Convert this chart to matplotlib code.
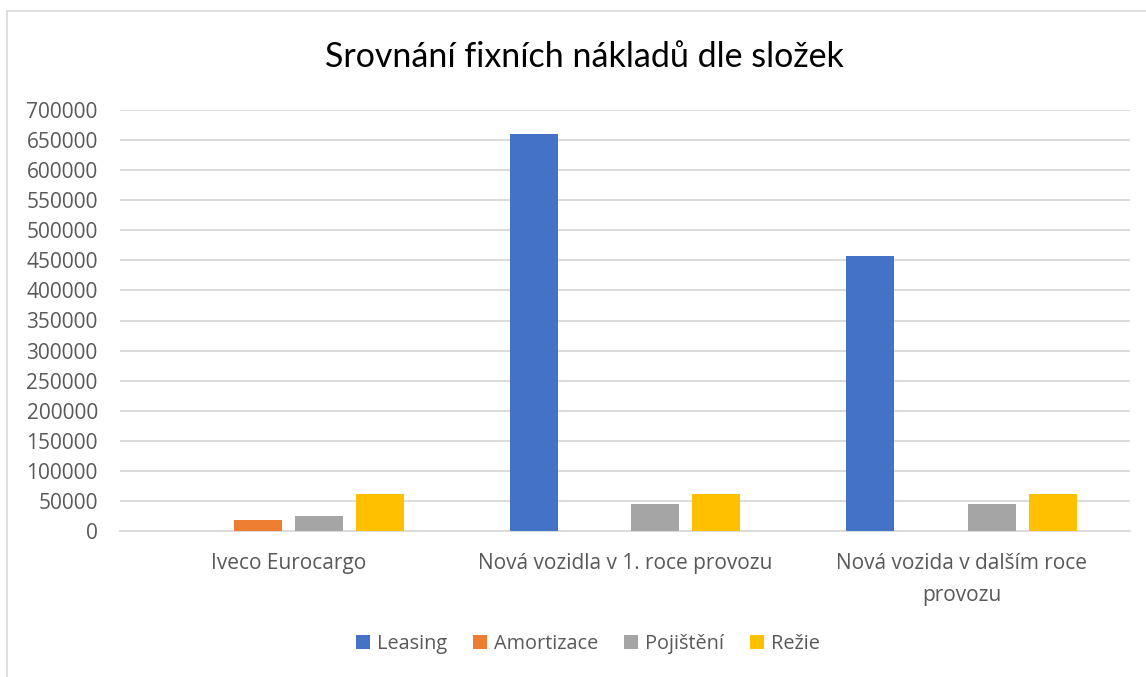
import matplotlib
matplotlib.use("Agg")
import matplotlib.pyplot as plt
from matplotlib.lines import Line2D
import numpy as np

plt.rcParams['font.family'] = ['Open Sans', 'DejaVu Sans']

categories = ["Iveco Eurocargo", "Nová vozidla v 1. roce provozu", "Nová vozida v dalším roce\nprovozu"]
series_names = ["Leasing", "Amortizace", "Pojištění", "Režie"]
leasing = [0, 660000, 458000]
amortizace = [18000, 0, 0]
pojisteni = [25000, 44500, 44500]
rezie = [62000, 62000, 62000]
colors = ["#4472C4", "#ED7D31", "#A5A5A5", "#FFC000"]
yticks = list(range(0, 700001, 50000))

fig = plt.figure(figsize=(11.46, 6.77), dpi=100)
ax = fig.add_axes([120/1146, 1-531/677, (1130-120)/1146, (531-110)/677])

x = np.arange(len(categories))
step = 0.181
width = 0.1425
for i, (vals, name, c) in enumerate(zip([leasing, amortizace, pojisteni, rezie], series_names, colors)):
    ax.bar(x + (i - 1.5) * step, vals, width, color=c, label=name, zorder=3)

ax.set_xlim(-0.5, 2.5)
ax.set_ylim(0, 700000)
ax.set_yticks(yticks)
ax.set_yticklabels([str(v) for v in yticks], fontsize=15, color="#595959")
ax.set_xticks(x)
ax.set_xticklabels(categories, fontsize=15, color="#595959", linespacing=1.65)
ax.tick_params(axis='y', length=0, pad=16)
ax.tick_params(axis='x', length=0, pad=16)
ax.yaxis.grid(True, color="#D9D9D9", linewidth=1.3, zorder=0)
for s in ["top", "right", "left"]:
    ax.spines[s].set_visible(False)
ax.spines["bottom"].set_color("#D9D9D9")
ax.spines["bottom"].set_linewidth(1.3)

fig.text(584/1146, 1-57/677, "Srovnání fixních nákladů dle složek", ha="center", va="center",
         fontsize=24.5, color="#000000", family=["Lato", "DejaVu Sans"])

handles, labels = ax.get_legend_handles_labels()
fig.legend(handles, labels, loc="center", bbox_to_anchor=(588/1146, 1-644/677), ncol=4,
           frameon=False, fontsize=14.3, labelcolor="#595959", handlelength=0.7, handleheight=0.7,
           columnspacing=1.3, handletextpad=0.35)

# chart border (top and left visible)
fig.add_artist(Line2D([7/1146, 1.0], [1-11/677, 1-11/677], transform=fig.transFigure, color="#D9D9D9", linewidth=1.2))
fig.add_artist(Line2D([7/1146, 7/1146], [0, 1-11/677], transform=fig.transFigure, color="#D9D9D9", linewidth=1.2))

fig.savefig("out.png", dpi=100)
